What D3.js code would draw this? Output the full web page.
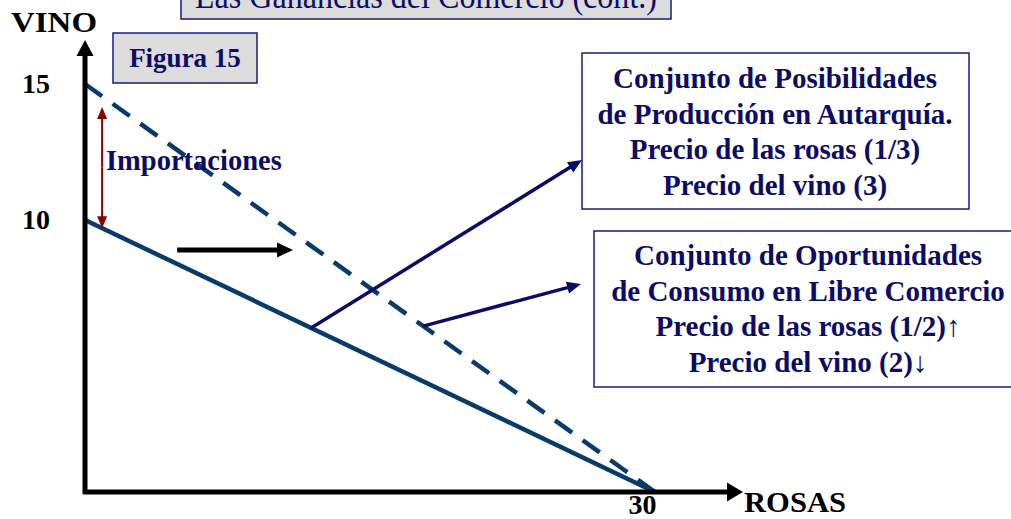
<!DOCTYPE html>
<html>
<head>
<meta charset="utf-8">
<script src="https://cdn.jsdelivr.net/npm/d3@7"></script>
<style>
  html, body { margin: 0; padding: 0; background: #fff; }
  svg { display: block; }
  text { font-family: "Liberation Serif", "Times New Roman", serif; }
</style>
</head>
<body>
<div id="chart"></div>
<script>
// data
const rosasMax = 30
const autarkyLine = [{ rosas: 0, vino: 10 }, { rosas: 30, vino: 0 }]   // producción en autarquía
const tradeLine = [{ rosas: 0, vino: 15 }, { rosas: 30, vino: 0 }]     // consumo en libre comercio
const vinoTicks = [10, 15]
const rosasTicks = [30]
const importArrow = [{ rosas: 0.9, vino: 14.15 }, { rosas: 0.9, vino: 9.7 }]
const shiftArrow = [{ rosas: 4.85, vino: 8.9 }, { rosas: 10.95, vino: 8.9 }]
const autarkyPointer = { rosas: 11.9 }
const tradePointer = { rosas: 17.8 }

const boxAutarky = ["Conjunto de Posibilidades", "de Producción en Autarquía.",
  "Precio de las rosas (1/3)", "Precio del vino (3)"]
const boxTrade = ["Conjunto de Oportunidades", "de Consumo en Libre Comercio",
  "Precio de las rosas (1/2)↑", "Precio del vino (2)↓"]

const width = 1011
const height = 519
const navy = "#0c0c66"
const lineBlue = "#073b6b"

const svg = d3.select("#chart")
  .append("svg")
  .attr("width", width)
  .attr("height", height)

const x = d3.scaleLinear().domain([0, rosasMax]).range([85, 655])
const y = d3.scaleLinear().domain([0, 15]).range([492, 84])

// arrow helper: line plus a filled triangle head at (x2, y2)
function arrow(g, x1, y1, x2, y2, color, w, headLen, headWid) {
  const a = Math.atan2(y2 - y1, x2 - x1)
  const bx = x2 - headLen * Math.cos(a), by = y2 - headLen * Math.sin(a)
  g.append("line")
    .attr("x1", x1).attr("y1", y1).attr("x2", bx + Math.cos(a)).attr("y2", by + Math.sin(a))
    .attr("stroke", color).attr("stroke-width", w)
  const px = -Math.sin(a) * headWid / 2, py = Math.cos(a) * headWid / 2
  g.append("path")
    .attr("d", `M${x2},${y2}L${bx + px},${by + py}L${bx - px},${by - py}Z`)
    .attr("fill", color)
}

// title box (cut at the top of the slide)
svg.append("rect")
  .attr("x", 181).attr("y", -40).attr("width", 490).attr("height", 59)
  .attr("fill", "#dcdcdc").attr("stroke", "#1a1a80").attr("stroke-width", 1.5)
svg.append("text")
  .attr("x", 195).attr("y", 8)
  .attr("textLength", 462).attr("lengthAdjust", "spacingAndGlyphs")
  .style("font-size", "36px").attr("fill", navy)
  .text("Las Ganancias del Comercio (cont.)")

// Figura 15 box
svg.append("rect")
  .attr("x", 113).attr("y", 33).attr("width", 144).attr("height", 50)
  .attr("fill", "#dcdcdc").attr("stroke", "#1a1a80").attr("stroke-width", 1.5)
svg.append("text")
  .attr("x", 185).attr("y", 67).attr("text-anchor", "middle")
  .style("font-size", "27px").style("font-weight", "bold").attr("fill", navy)
  .text("Figura 15")

// frontiers
const line = d3.line().x(d => x(d.rosas)).y(d => y(d.vino))

svg.append("path")
  .datum(tradeLine)
  .attr("d", line)
  .attr("fill", "none").attr("stroke", lineBlue)
  .attr("stroke-width", 4.5).attr("stroke-dasharray", "21 13")

svg.append("path")
  .datum(autarkyLine)
  .attr("d", line)
  .attr("fill", "none").attr("stroke", lineBlue).attr("stroke-width", 4.5)

// axes
const axes = svg.append("g")
arrow(axes, x(0), y(0) + 2, x(0), 40, "#000", 5, 16, 17)
arrow(axes, x(0) - 2, y(0), 743, y(0), "#000", 5, 16, 19)

const yAxis = svg.append("g")
  .attr("transform", `translate(${x(0)},0)`)
  .call(d3.axisLeft(y).tickValues(vinoTicks).tickSize(0).tickPadding(35).tickFormat(d3.format("d")))
yAxis.select(".domain").remove()
yAxis.selectAll("text")
  .style("font-family", "'Liberation Serif', serif")
  .style("font-size", "28px").style("font-weight", "bold").attr("fill", "#000")

const xAxis = svg.append("g")
  .attr("transform", `translate(0,${y(0)})`)
  .call(d3.axisBottom(x).tickValues(rosasTicks).tickSize(0).tickPadding(2).tickFormat(d3.format("d")))
xAxis.select(".domain").remove()
xAxis.selectAll("text")
  .attr("dx", -13)
  .style("font-family", "'Liberation Serif', serif")
  .style("font-size", "28px").style("font-weight", "bold").attr("fill", "#000")

svg.append("text")
  .attr("x", 11).attr("y", 32)
  .attr("textLength", 86).attr("lengthAdjust", "spacingAndGlyphs")
  .style("font-size", "29px").style("font-weight", "bold").attr("fill", "#000")
  .text("VINO")
svg.append("text")
  .attr("x", 744).attr("y", 512)
  .attr("textLength", 102).attr("lengthAdjust", "spacingAndGlyphs")
  .style("font-size", "29px").style("font-weight", "bold").attr("fill", "#000")
  .text("ROSAS")

// importaciones double arrow
const ia = importArrow.map(d => [x(d.rosas), y(d.vino)])
const mid = [(ia[0][0] + ia[1][0]) / 2, (ia[0][1] + ia[1][1]) / 2]
arrow(svg, mid[0], mid[1], ia[0][0], ia[0][1], "#8b0000", 2, 12, 10)
arrow(svg, mid[0], mid[1], ia[1][0], ia[1][1], "#8b0000", 2, 12, 10)
svg.append("text")
  .attr("x", 106).attr("y", 170)
  .style("font-size", "28.5px").style("font-weight", "bold").attr("fill", navy)
  .text("Importaciones")

// shift arrow
arrow(svg, x(shiftArrow[0].rosas), y(shiftArrow[0].vino),
  x(shiftArrow[1].rosas), y(shiftArrow[1].vino), "#000", 5, 16, 15)

// pointers to the boxes
const autY = d3.scaleLinear().domain([0, 30]).range([10, 0])
const trdY = d3.scaleLinear().domain([0, 30]).range([15, 0])
arrow(svg, x(autarkyPointer.rosas), y(autY(autarkyPointer.rosas)), 582, 160, navy, 3.5, 14, 12)
arrow(svg, x(tradePointer.rosas), y(trdY(tradePointer.rosas)), 581, 284, navy, 3.5, 14, 12)

// text boxes
function textBox(lines, bx, by, bw, bh, cx, firstBase, step) {
  svg.append("rect")
    .attr("x", bx).attr("y", by).attr("width", bw).attr("height", bh)
    .attr("fill", "#fff").attr("stroke", "#1a1a80").attr("stroke-width", 1.5)
  svg.append("g").selectAll("text")
    .data(lines)
    .enter()
    .append("text")
    .attr("x", cx)
    .attr("y", (d, i) => firstBase + i * step)
    .attr("text-anchor", "middle")
    .style("font-size", "29px").style("font-weight", "bold").attr("fill", navy)
    .text(d => d)
}
textBox(boxAutarky, 582, 53, 387, 156, 775, 88, 35.5)
textBox(boxTrade, 594, 231, 430, 156, 808, 265, 35.7)
</script>
</body>
</html>
